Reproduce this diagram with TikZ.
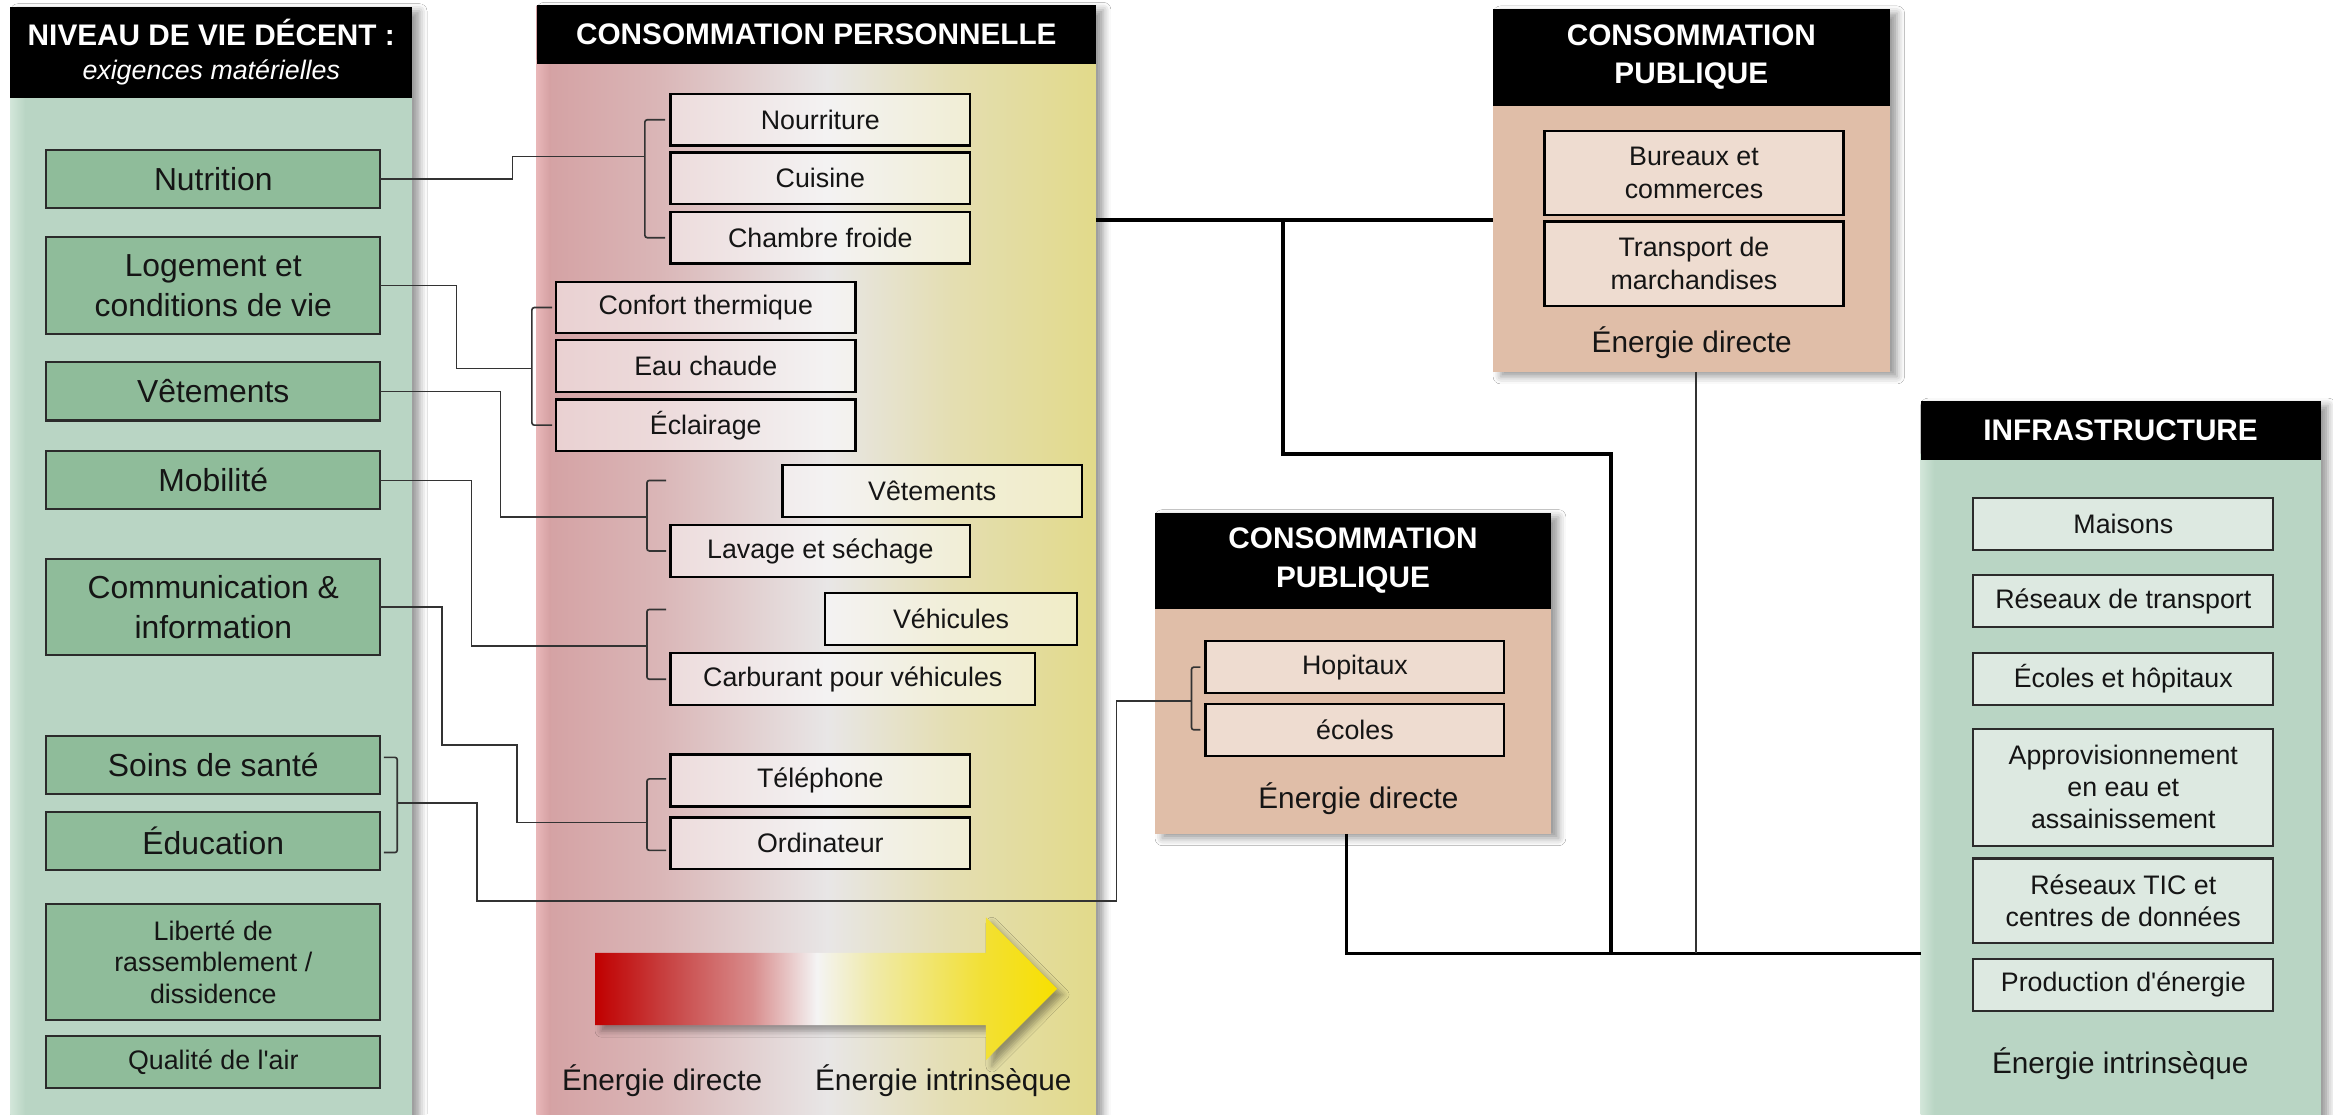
\documentclass[tikz,border=0pt]{standalone}
\usepackage{fontspec}
\setmainfont{Liberation Sans}
\usetikzlibrary{shadows.blur}

\definecolor{lvlbg}{HTML}{B9D5C4}
\definecolor{lvlstrip}{HTML}{D2E6D9}
\definecolor{lvlbox}{HTML}{8FBC9A}
\definecolor{pubbg}{HTML}{E0BEA8}
\definecolor{pubbox}{HTML}{EEDCD0}
\definecolor{infbox}{HTML}{DDE9E1}
\definecolor{bord}{HTML}{2B2B2B}
\definecolor{conn}{HTML}{333333}
\definecolor{txt}{HTML}{151515}
\definecolor{pg0}{HTML}{D4A0A2}
\definecolor{pgs}{HTML}{E8B6B8}
\definecolor{pg1}{HTML}{DAB6B7}
\definecolor{pg2}{HTML}{E8E6E6}
\definecolor{pg3}{HTML}{E4DEB2}
\definecolor{pg4}{HTML}{E2DA8A}
\definecolor{ar0}{HTML}{C00000}
\definecolor{ar1}{HTML}{C84444}
\definecolor{ar2}{HTML}{D88C8C}
\definecolor{ar3}{HTML}{F4F4F4}
\definecolor{ar4}{HTML}{F0EAAA}
\definecolor{ar5}{HTML}{F2E034}
\definecolor{ar6}{HTML}{F8E000}

\pgfdeclarehorizontalshading{persgrad}{100bp}{color(0bp)=(pg0); color(25bp)=(pg0); color(36bp)=(pg1); color(51bp)=(pg2); color(62bp)=(pg3); color(75bp)=(pg4); color(100bp)=(pg4)}
\pgfdeclarehorizontalshading{arrgrad}{100bp}{color(0bp)=(ar0); color(25bp)=(ar0); color(33bp)=(ar1); color(42bp)=(ar2); color(49bp)=(ar3); color(55bp)=(ar4); color(67bp)=(ar5); color(75bp)=(ar6); color(100bp)=(ar6)}

\newcommand\mkbox[7]{%
  \pgfmathsetmacro\mkcx{(#3+#5)/2}%
  \pgfmathsetmacro\mkcy{(#4+#6)/2}%
  \pgfmathsetmacro\mkw{(#5-#3)*0.5}%
  \pgfmathsetmacro\mkh{(#6-#4)*0.5}%
  \node[#2, minimum width=\mkw pt, minimum height=\mkh pt] (#1) at (\mkcx,\mkcy) {#7};}

\begin{document}
\begin{tikzpicture}[x=0.5pt,y=-0.5pt,
  every node/.style={inner sep=0pt, outer sep=0pt, text=txt},
  panelsh/.style={blur shadow={shadow xshift=2.5pt, shadow yshift=-1.5pt, shadow blur radius=2.5pt, shadow opacity=40}},
  hdr/.style={fill=black, text=white, font=\bfseries\fontsize{10}{12.85}\selectfont, align=center},
  lbox/.style={draw=bord, line width=0.7pt, fill=lvlbox, align=center, font=\fontsize{10.7}{13.5}\selectfont},
  lboxs/.style={lbox, font=\fontsize{9}{10.5}\selectfont},
  pbox/.style={draw=black, line width=0.8pt, fill=white, fill opacity=0.5, text opacity=1, font=\fontsize{9}{11}\selectfont},
  ubox/.style={draw=black, line width=0.8pt, fill=pubbox, align=center, font=\fontsize{9}{11}\selectfont},
  ibox/.style={draw=bord, line width=0.7pt, fill=infbox, align=center, font=\fontsize{9}{10.75}\selectfont},
  elabel/.style={font=\fontsize{10}{12}\selectfont},
  thinc/.style={draw=conn, line width=0.55pt},
  thickc/.style={draw=black, line width=1.3pt},
  brk/.style={draw=conn, line width=0.55pt, rounded corners=0.8pt},
]
\useasboundingbox (0,0) rectangle (1568,749);
\fill[white] (0,0) rectangle (1568,749);

% ---------- panels ----------
\mkbox{lvl}{fill=lvlbg, panelsh}{7}{4.5}{277}{760}{}
\shade[left color=lvlstrip, right color=lvlbg] (7,60) rectangle (17,760);
\mkbox{lvlh}{hdr, font=\bfseries\fontsize{10}{11.7}\selectfont}{7}{4.5}{277}{65.6}{NIVEAU DE VIE DÉCENT :\\{\mdseries\itshape\fontsize{9}{11.7}\selectfont exigences matérielles}}

\mkbox{pers}{shade, shading=persgrad, panelsh}{360.7}{3.6}{736.6}{760}{}
\shade[left color=pgs, right color=pg0] (360.7,40) rectangle (370,760);
\mkbox{persh}{hdr}{360.7}{3.6}{736.6}{42.7}{CONSOMMATION PERSONNELLE}

\mkbox{pubA}{fill=pubbg, panelsh}{1003.5}{6}{1270}{250}{}
\mkbox{pubAh}{hdr}{1003.5}{6}{1270}{71}{CONSOMMATION\\PUBLIQUE}

\mkbox{pubB}{fill=pubbg, panelsh}{776.3}{344.5}{1042.4}{560.4}{}
\mkbox{pubBh}{hdr}{776.3}{344.5}{1042.4}{409}{CONSOMMATION\\PUBLIQUE}

\mkbox{infra}{fill=lvlbg, panelsh}{1290.8}{269.6}{1559.7}{760}{}
\shade[left color=lvlstrip, right color=lvlbg] (1290.8,305) rectangle (1300,760);
\mkbox{infrah}{hdr}{1290.8}{269.6}{1559.7}{308.9}{INFRASTRUCTURE}

% ---------- boxes: left ----------
\mkbox{nut}{lbox}{31}{100.8}{255.7}{140}{Nutrition}
\mkbox{loge}{lbox}{31}{159.5}{255.7}{224.5}{Logement et\\conditions de vie}
\mkbox{vet}{lbox}{31}{243.5}{255.7}{282.6}{Vêtements}
\mkbox{mob}{lbox}{31}{303.4}{255.7}{342.3}{Mobilité}
\mkbox{com}{lbox}{31}{376}{255.7}{440.2}{Communication \&\\information}
\mkbox{soin}{lbox}{31}{494.7}{255.7}{533.6}{Soins de santé}
\mkbox{edu}{lbox}{31}{545.7}{255.7}{584.7}{Éducation}
\mkbox{lib}{lboxs}{31}{607.6}{255.7}{685.6}{Liberté de\\rassemblement /\\dissidence}
\mkbox{air}{lboxs}{31}{696.3}{255.7}{731}{Qualité de l\textquotesingle air}

% ---------- boxes: personal consumption ----------
\mkbox{nour}{pbox}{450.7}{63.1}{652}{97.9}{Nourriture}
\mkbox{cuis}{pbox}{450.7}{102.5}{652}{137.2}{Cuisine}
\mkbox{chf}{pbox}{450.7}{142.3}{652}{177.2}{Chambre froide}
\mkbox{conf}{pbox}{373.7}{189.4}{575}{224}{Confort thermique}
\mkbox{eau}{pbox}{373.7}{228.5}{575}{263.3}{Eau chaude}
\mkbox{ecl}{pbox}{373.7}{268.4}{575}{303.1}{Éclairage}
\mkbox{vetm}{pbox}{525.8}{312.5}{727.2}{347.3}{Vêtements}
\mkbox{lav}{pbox}{450.7}{352.8}{652}{387.8}{Lavage et séchage}
\mkbox{veh}{pbox}{554.4}{398.6}{724}{433.6}{Véhicules}
\mkbox{carb}{pbox}{450.7}{439}{695.6}{474}{Carburant pour véhicules}
\mkbox{tel}{pbox}{450.7}{507}{652}{542}{Téléphone}
\mkbox{ordi}{pbox}{450.7}{549.5}{652}{584}{Ordinateur}

% ---------- boxes: public consumption ----------
\mkbox{bur}{ubox}{1038}{87.9}{1239}{144.5}{Bureaux et\\commerces}
\mkbox{trans}{ubox}{1038}{148.8}{1239}{205.7}{Transport de\\marchandises}
\node[elabel] (pubAe) at (1137,230.5) {Énergie directe};
\mkbox{hop}{ubox}{810.3}{430.8}{1011}{465.9}{Hopitaux}
\mkbox{eco}{ubox}{810.3}{473}{1011}{508}{écoles}
\node[elabel] (pubBe) at (913,536.7) {Énergie directe};

% ---------- boxes: infrastructure ----------
\mkbox{mais}{ibox}{1326.2}{334.7}{1527.9}{369.6}{Maisons}
\mkbox{rtr}{ibox}{1326.2}{386.6}{1527.9}{421.5}{Réseaux de transport}
\mkbox{ecoh}{ibox}{1326.2}{439.1}{1527.9}{473.8}{Écoles et hôpitaux}
\mkbox{appro}{ibox}{1326.2}{489.8}{1527.9}{568.4}{Approvisionnement\\en eau et\\assainissement}
\mkbox{tic}{ibox}{1326.2}{577}{1527.9}{633.6}{Réseaux TIC et\\centres de données}
\mkbox{prod}{ibox}{1326.2}{644.5}{1527.9}{679.2}{Production d\textquotesingle énergie}
\node[elabel] (infe) at (1425,714.8) {Énergie intrinsèque};

% ---------- coordinates ----------
\coordinate (brA) at (433.3,105.1);
\coordinate (brB) at (357.4,247.6);
\coordinate (brC) at (434.8,347.3);
\coordinate (brD) at (434.8,434);
\coordinate (brE) at (434.8,552.9);
\coordinate (brF) at (267,539.5);
\coordinate (brG) at (800.8,471.3);
\coordinate (cTop) at (447.7,322.9);
\coordinate (dTop) at (447.7,409.6);
\coordinate (eTop) at (447.7,523.5);
\coordinate (eBot) at (447.7,571.5);
\coordinate (fTop) at (258,509);
\coordinate (fBot) at (258,573);
\coordinate (persout) at (736.6,148);
\coordinate (j1) at (862,148);
\coordinate (j2) at (1083,305);
\coordinate (busL) at (905,640.8);
\coordinate (busM) at (1083,640.8);
\coordinate (busT) at (1140,640.8);
\coordinate (busR) at (1290.8,640.8);
\coordinate (pubBout) at (905,560.4);
\coordinate (pubAout) at (1140,250);

% ---------- brackets ----------
\draw[brk] ([xshift=-1.8pt]nour.west) -- ++(-13.7,0) |- ([xshift=-1.8pt]chf.west);
\draw[brk] ([xshift=-1.3pt]conf.west) -- ++(-13.6,0) |- ([xshift=-1.3pt]ecl.west);
\draw[brk] (cTop) -- ++(-12.9,0) |- ([xshift=-1.5pt]lav.west);
\draw[brk] (dTop) -- ++(-12.9,0) |- ([xshift=-1.5pt]carb.west);
\draw[brk] (eTop) -- ++(-12.9,0) |- (eBot);
\draw[brk] (fTop) -- ++(9,0) |- (fBot);
\draw[brk] ([xshift=-1.75pt]hop.west) -- ++(-6,0) |- ([xshift=-1.75pt]eco.west);

% ---------- connectors: left ----------
\draw[thinc] (nut.east) -| (344.5,105.1) -- (brA);
\draw[thinc] (loge.east) -| (306.7,247.6) -- (brB);
\draw[thinc] (vet.east) -| (336.3,347.3) -- (brC);
\draw[thinc] (mob.east) -| (317,434) -- (brD);
\draw[thinc] (com.east) -| (297.1,500.8) -| (347.3,552.9) -- (brE);
\draw[thinc] (brF) -| (320.5,605.6) -| (750.5,471.3) -- (brG);

% ---------- connectors: right ----------
\draw[thickc] (persout) -- (persout -| pubA.west);
\draw[thickc] (j1) |- (j2) -- (busM);
\draw[thickc] (pubBout) -- (busL) -- (busR);
\draw[thinc, line width=0.6pt] (pubAout) -- (busT);

% ---------- arrow ----------
\path[shade, shading=arrgrad, blur shadow={shadow xshift=2pt, shadow yshift=-2pt, shadow blur radius=2pt, shadow opacity=35}]
  (400,640.5) -- (662.6,640.5) -- (662.6,616.5) -- (710.5,664.5) -- (662.6,712.5) -- (662.6,689) -- (400,689) -- cycle;
\node[elabel] (ed) at (445,726.6) {Énergie directe};
\node[elabel] (ei) at (634,726.6) {Énergie intrinsèque};
\end{tikzpicture}
\end{document}
